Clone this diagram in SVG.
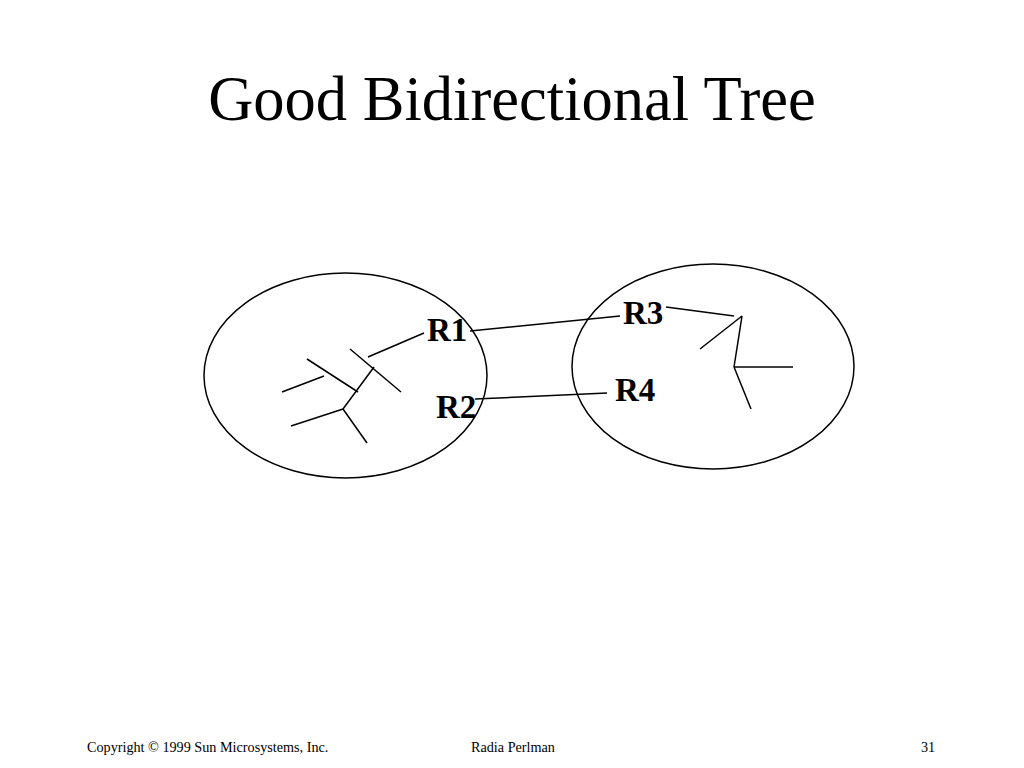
<svg xmlns="http://www.w3.org/2000/svg" width="1024" height="768" viewBox="0 0 1024 768">
<style>
.ln{stroke:#000;stroke-width:1.5;fill:none}
.lbl{font-family:"Liberation Serif","Times New Roman",serif;font-weight:bold;font-size:33px;fill:#000}
.ft{font-family:"Liberation Serif","Times New Roman",serif;font-size:14.2px;fill:#000}
</style>
<rect width="1024" height="768" fill="#fff"/>
<text x="512" y="120" text-anchor="middle" font-family="Liberation Serif, Times New Roman, serif" font-size="62.5" fill="#000">Good Bidirectional Tree</text>
<g id="left-area">
<ellipse class="ln" cx="345.5" cy="375.5" rx="141.5" ry="102.5"/>
<line class="ln" x1="368" y1="357" x2="424" y2="333"/>
<line class="ln" x1="350" y1="349" x2="401" y2="392"/>
<line class="ln" x1="307" y1="359" x2="358" y2="392"/>
<line class="ln" x1="282" y1="392" x2="324" y2="376"/>
<line class="ln" x1="374" y1="367" x2="343" y2="409"/>
<line class="ln" x1="291" y1="426" x2="343" y2="409"/>
<line class="ln" x1="343" y1="409" x2="367" y2="443"/>
</g>
<g id="right-area">
<ellipse class="ln" cx="713" cy="366.5" rx="141" ry="102.5"/>
<line class="ln" x1="666" y1="307" x2="734" y2="316"/>
<line class="ln" x1="742" y1="316" x2="700" y2="349"/>
<line class="ln" x1="742" y1="316" x2="734" y2="367"/>
<line class="ln" x1="734" y1="367" x2="793" y2="367"/>
<line class="ln" x1="734" y1="367" x2="751" y2="409"/>
</g>
<g id="R1"><text class="lbl" x="427" y="341">R1</text></g>
<g id="R2"><text class="lbl" x="436" y="418">R2</text></g>
<g id="R3"><text class="lbl" x="623" y="324">R3</text></g>
<g id="R4"><text class="lbl" x="615" y="401">R4</text></g>
<g id="connectors">
<line class="ln" x1="470" y1="331" x2="620" y2="316"/>
<line class="ln" x1="475" y1="399" x2="607" y2="393"/>
</g>
<text class="ft" x="87" y="752">Copyright © 1999 Sun Microsystems, Inc.</text>
<text class="ft" x="471" y="752">Radia Perlman</text>
<text class="ft" x="921" y="752">31</text>
</svg>
